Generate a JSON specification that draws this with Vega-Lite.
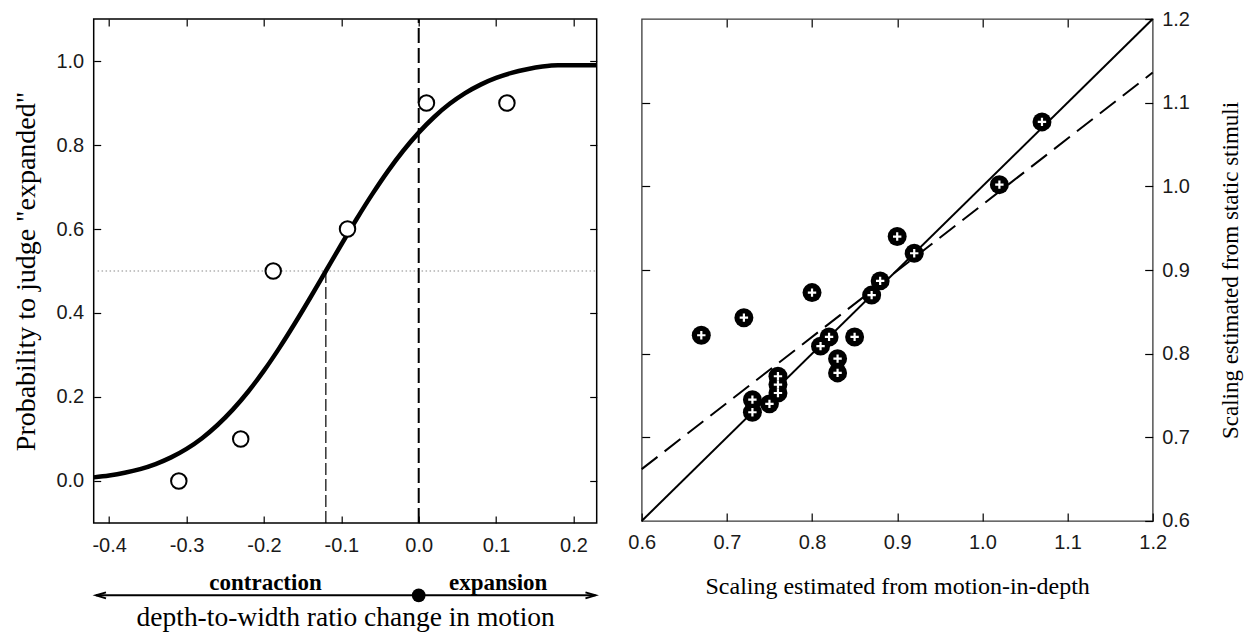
{
  "$schema": "https://vega.github.io/schema/vega-lite/v6.json",
  "background": "white",
  "padding": {"left": 11.7, "top": 8, "right": 0, "bottom": 0},
  "spacing": 20,
  "config": {
    "view": {"stroke": null},
    "axis": {"grid": false, "domain": false, "labelFont": "Liberation Sans", "labelColor": "#1a1a1a", "titleFont": "Liberation Serif", "titleFontWeight": "normal", "titleColor": "black", "tickColor": "black", "tickWidth": 1.2, "labelFlush": false, "labelOverlap": false}
  },
  "hconcat": [
    {
      "width": 503,
      "height": 504,
      "view": {"stroke": "black", "strokeWidth": 1.5},
      "resolve": {"axis": {"x": "independent", "y": "independent"}},
      "layer": [
        {
          "data": {"values": [{"x": -0.415, "x2": 0.23, "y": 0.5}]},
          "mark": {"type": "rule", "color": "#8a8a8a", "strokeWidth": 1, "strokeDash": [1.5, 2.5]},
          "encoding": {
            "x": {"field": "x", "type": "quantitative", "scale": {"domain": [-0.42, 0.23], "nice": false, "zero": false}, "axis": null},
            "x2": {"field": "x2"},
            "y": {"field": "y", "type": "quantitative", "scale": {"domain": [-0.1, 1.1], "nice": false, "zero": false}, "axis": null}
          }
        },
        {
          "data": {"values": [{"x": -0.12, "y": -0.1, "y2": 0.5}]},
          "mark": {"type": "rule", "color": "black", "strokeWidth": 1.2, "strokeDash": [12, 4]},
          "encoding": {
            "x": {"field": "x", "type": "quantitative", "scale": {"domain": [-0.42, 0.23], "nice": false, "zero": false}, "axis": null},
            "y": {"field": "y", "type": "quantitative", "scale": {"domain": [-0.1, 1.1], "nice": false, "zero": false}, "axis": null},
            "y2": {"field": "y2"}
          }
        },
        {
          "data": {"values": [{"x": 0, "y": -0.1, "y2": 1.1}]},
          "mark": {"type": "rule", "color": "black", "strokeWidth": 2, "strokeDash": [15, 5]},
          "encoding": {
            "x": {"field": "x", "type": "quantitative", "scale": {"domain": [-0.42, 0.23], "nice": false, "zero": false}, "axis": null},
            "y": {"field": "y", "type": "quantitative", "scale": {"domain": [-0.1, 1.1], "nice": false, "zero": false}, "axis": null},
            "y2": {"field": "y2"}
          }
        },
        {
          "data": {"values": [
            {"x": -0.42, "y": 0.0086}, {"x": -0.40, "y": 0.0131}, {"x": -0.38, "y": 0.0196}, {"x": -0.36, "y": 0.0284},
            {"x": -0.34, "y": 0.0404}, {"x": -0.32, "y": 0.0562}, {"x": -0.30, "y": 0.0765}, {"x": -0.28, "y": 0.102},
            {"x": -0.26, "y": 0.1333}, {"x": -0.24, "y": 0.1705}, {"x": -0.22, "y": 0.2137}, {"x": -0.20, "y": 0.2627},
            {"x": -0.18, "y": 0.317}, {"x": -0.16, "y": 0.3755}, {"x": -0.14, "y": 0.4369}, {"x": -0.12, "y": 0.5},
            {"x": -0.10, "y": 0.5631}, {"x": -0.08, "y": 0.6245}, {"x": -0.06, "y": 0.683}, {"x": -0.04, "y": 0.7373},
            {"x": -0.02, "y": 0.7863}, {"x": 0.0, "y": 0.8295}, {"x": 0.02, "y": 0.8667}, {"x": 0.04, "y": 0.898},
            {"x": 0.06, "y": 0.9235}, {"x": 0.08, "y": 0.9438}, {"x": 0.10, "y": 0.9596}, {"x": 0.12, "y": 0.9716},
            {"x": 0.14, "y": 0.9804}, {"x": 0.16, "y": 0.9869}, {"x": 0.18, "y": 0.99}, {"x": 0.20, "y": 0.99}, {"x": 0.23, "y": 0.99}
          ]},
          "mark": {"type": "line", "color": "black", "strokeWidth": 4.5, "interpolate": "monotone"},
          "encoding": {
            "x": {"field": "x", "type": "quantitative", "scale": {"domain": [-0.42, 0.23], "nice": false, "zero": false},
              "axis": {"orient": "bottom", "values": [-0.4, -0.3, -0.2, -0.1, 0, 0.1, 0.2], "labelExpr": "(datum.value < 0 ? '-' : '') + format(abs(datum.value), '.1f')", "labelFontSize": 20, "labelPadding": 20, "tickSize": -7, "title": "depth-to-width ratio change in motion", "titleFontSize": 27.5, "titlePadding": 48}},
            "y": {"field": "y", "type": "quantitative", "scale": {"domain": [-0.1, 1.1], "nice": false, "zero": false},
              "axis": {"orient": "left", "values": [0, 0.2, 0.4, 0.6, 0.8, 1.0], "format": ".1f", "labelFontSize": 20, "labelPadding": 17, "tickSize": -7, "title": "Probability to judge \"expanded\"", "titleFontSize": 28, "titlePadding": 15.3}}
          }
        },
        {
          "data": {"values": [
            {"x": -0.31, "y": 0.0}, {"x": -0.23, "y": 0.1}, {"x": -0.188, "y": 0.5},
            {"x": -0.092, "y": 0.6}, {"x": 0.01, "y": 0.9}, {"x": 0.114, "y": 0.9}
          ]},
          "mark": {"type": "point", "shape": "circle", "filled": true, "fill": "white", "stroke": "black", "strokeWidth": 2, "size": 240, "opacity": 1},
          "encoding": {
            "x": {"field": "x", "type": "quantitative", "scale": {"domain": [-0.42, 0.23], "nice": false, "zero": false}, "axis": null},
            "y": {"field": "y", "type": "quantitative", "scale": {"domain": [-0.1, 1.1], "nice": false, "zero": false}, "axis": null}
          }
        },
        {
          "data": {"values": [{"x": -0.417, "x2": 0.2284, "y": -0.2723}]},
          "mark": {"type": "rule", "color": "black", "strokeWidth": 2},
          "encoding": {
            "x": {"field": "x", "type": "quantitative", "scale": {"domain": [-0.42, 0.23], "nice": false, "zero": false}, "axis": null},
            "x2": {"field": "x2"},
            "y": {"field": "y", "type": "quantitative", "scale": {"domain": [-0.1, 1.1], "nice": false, "zero": false}, "axis": null}
          }
        },
        {
          "data": {"values": [{"x": -0.417, "y": -0.2723}]},
          "mark": {"type": "point", "shape": "M2,-0.6L0,0L2,0.6", "filled": false, "stroke": "black", "strokeWidth": 2, "size": 100, "opacity": 1},
          "encoding": {
            "x": {"field": "x", "type": "quantitative", "scale": {"domain": [-0.42, 0.23], "nice": false, "zero": false}, "axis": null},
            "y": {"field": "y", "type": "quantitative", "scale": {"domain": [-0.1, 1.1], "nice": false, "zero": false}, "axis": null}
          }
        },
        {
          "data": {"values": [{"x": 0.2284, "y": -0.2723}]},
          "mark": {"type": "point", "shape": "M-2,-0.6L0,0L-2,0.6", "filled": false, "stroke": "black", "strokeWidth": 2, "size": 100, "opacity": 1},
          "encoding": {
            "x": {"field": "x", "type": "quantitative", "scale": {"domain": [-0.42, 0.23], "nice": false, "zero": false}, "axis": null},
            "y": {"field": "y", "type": "quantitative", "scale": {"domain": [-0.1, 1.1], "nice": false, "zero": false}, "axis": null}
          }
        },
        {
          "data": {"values": [{"x": 0, "y": -0.2723}]},
          "mark": {"type": "point", "shape": "circle", "filled": true, "color": "black", "size": 190, "opacity": 1},
          "encoding": {
            "x": {"field": "x", "type": "quantitative", "scale": {"domain": [-0.42, 0.23], "nice": false, "zero": false}, "axis": null},
            "y": {"field": "y", "type": "quantitative", "scale": {"domain": [-0.1, 1.1], "nice": false, "zero": false}, "axis": null}
          }
        },
        {
          "data": {"values": [{"x": -0.198, "y": -0.2437, "label": "contraction"}, {"x": 0.1027, "y": -0.2437, "label": "expansion"}]},
          "mark": {"type": "text", "font": "Liberation Serif", "fontWeight": "bold", "fontSize": 23, "color": "black", "align": "center", "baseline": "middle"},
          "encoding": {
            "x": {"field": "x", "type": "quantitative", "scale": {"domain": [-0.42, 0.23], "nice": false, "zero": false}, "axis": null},
            "y": {"field": "y", "type": "quantitative", "scale": {"domain": [-0.1, 1.1], "nice": false, "zero": false}, "axis": null},
            "text": {"field": "label"}
          }
        },
        {
          "data": {"values": [{"x": 0, "y": 0.5}]},
          "mark": {"type": "point", "opacity": 0},
          "encoding": {
            "x": {"field": "x", "type": "quantitative", "scale": {"domain": [-0.42, 0.23], "nice": false, "zero": false},
              "axis": {"orient": "top", "values": [-0.4, -0.3, -0.2, -0.1, 0, 0.1, 0.2], "labels": false, "tickSize": -7, "title": null}},
            "y": {"field": "y", "type": "quantitative", "scale": {"domain": [-0.1, 1.1], "nice": false, "zero": false},
              "axis": {"orient": "right", "values": [0, 0.2, 0.4, 0.6, 0.8, 1.0], "labels": false, "tickSize": -7, "title": null}}
          }
        }
      ]
    },
    {
      "width": 511,
      "height": 502,
      "view": {"stroke": "#3a3a3a", "strokeWidth": 1.3},
      "resolve": {"axis": {"x": "independent", "y": "independent"}},
      "layer": [
        {
          "data": {"values": [{"x": 0.6, "y": 0.6}, {"x": 1.2, "y": 1.2}]},
          "mark": {"type": "line", "color": "black", "strokeWidth": 2},
          "encoding": {
            "x": {"field": "x", "type": "quantitative", "scale": {"domain": [0.6, 1.2], "nice": false, "zero": false},
              "axis": {"orient": "bottom", "values": [0.6, 0.7, 0.8, 0.9, 1.0, 1.1, 1.2], "format": ".1f", "labelFontSize": 20, "labelPadding": 20, "tickSize": -8, "title": "Scaling estimated from motion-in-depth", "titleFontSize": 24, "titlePadding": 22}},
            "y": {"field": "y", "type": "quantitative", "scale": {"domain": [0.6, 1.2], "nice": false, "zero": false},
              "axis": {"orient": "right", "values": [0.6, 0.7, 0.8, 0.9, 1.0, 1.1, 1.2], "format": ".1f", "labelFontSize": 20, "labelPadding": 17, "tickSize": -8, "title": "Scaling estimated from static stimuli", "titleFontSize": 23, "titleAngle": 270, "titleBaseline": "top", "titlePadding": 30}}
          }
        },
        {
          "data": {"values": [{"x": 0.6, "y": 0.662}, {"x": 1.2, "y": 1.136}]},
          "mark": {"type": "line", "color": "black", "strokeWidth": 2, "strokeDash": [20, 9]},
          "encoding": {
            "x": {"field": "x", "type": "quantitative", "scale": {"domain": [0.6, 1.2], "nice": false, "zero": false}, "axis": null},
            "y": {"field": "y", "type": "quantitative", "scale": {"domain": [0.6, 1.2], "nice": false, "zero": false}, "axis": null}
          }
        },
        {
          "data": {"name": "scatter"},
          "mark": {"type": "point", "shape": "circle", "filled": true, "color": "black", "size": 360, "opacity": 1},
          "encoding": {
            "x": {"field": "x", "type": "quantitative", "scale": {"domain": [0.6, 1.2], "nice": false, "zero": false}, "axis": null},
            "y": {"field": "y", "type": "quantitative", "scale": {"domain": [0.6, 1.2], "nice": false, "zero": false}, "axis": null}
          }
        },
        {
          "data": {"name": "scatter"},
          "mark": {"type": "point", "shape": "M-1,0H1M0,-1V1", "filled": false, "stroke": "white", "strokeWidth": 2.2, "size": 70, "opacity": 1},
          "encoding": {
            "x": {"field": "x", "type": "quantitative", "scale": {"domain": [0.6, 1.2], "nice": false, "zero": false}, "axis": null},
            "y": {"field": "y", "type": "quantitative", "scale": {"domain": [0.6, 1.2], "nice": false, "zero": false}, "axis": null}
          }
        },
        {
          "data": {"values": [{"x": 0.9, "y": 0.9}]},
          "mark": {"type": "point", "opacity": 0},
          "encoding": {
            "x": {"field": "x", "type": "quantitative", "scale": {"domain": [0.6, 1.2], "nice": false, "zero": false},
              "axis": {"orient": "top", "values": [0.7, 0.8, 0.9, 1.0, 1.1], "labels": false, "tickSize": -8, "title": null}},
            "y": {"field": "y", "type": "quantitative", "scale": {"domain": [0.6, 1.2], "nice": false, "zero": false},
              "axis": {"orient": "left", "values": [0.7, 0.8, 0.9, 1.0, 1.1], "labels": false, "tickSize": -8, "title": null}}
          }
        }
      ]
    }
  ],
  "datasets": {
    "scatter": [
      {"x": 0.67, "y": 0.822}, {"x": 0.72, "y": 0.843}, {"x": 0.80, "y": 0.873}, {"x": 0.90, "y": 0.940},
      {"x": 0.92, "y": 0.920}, {"x": 0.88, "y": 0.887}, {"x": 0.87, "y": 0.870}, {"x": 0.85, "y": 0.820},
      {"x": 0.82, "y": 0.820}, {"x": 0.81, "y": 0.809}, {"x": 0.83, "y": 0.794}, {"x": 0.83, "y": 0.777},
      {"x": 0.76, "y": 0.773}, {"x": 0.76, "y": 0.763}, {"x": 0.76, "y": 0.753}, {"x": 0.75, "y": 0.740},
      {"x": 0.73, "y": 0.745}, {"x": 0.73, "y": 0.730}, {"x": 1.02, "y": 1.002}, {"x": 1.07, "y": 1.077}
    ]
  }
}
